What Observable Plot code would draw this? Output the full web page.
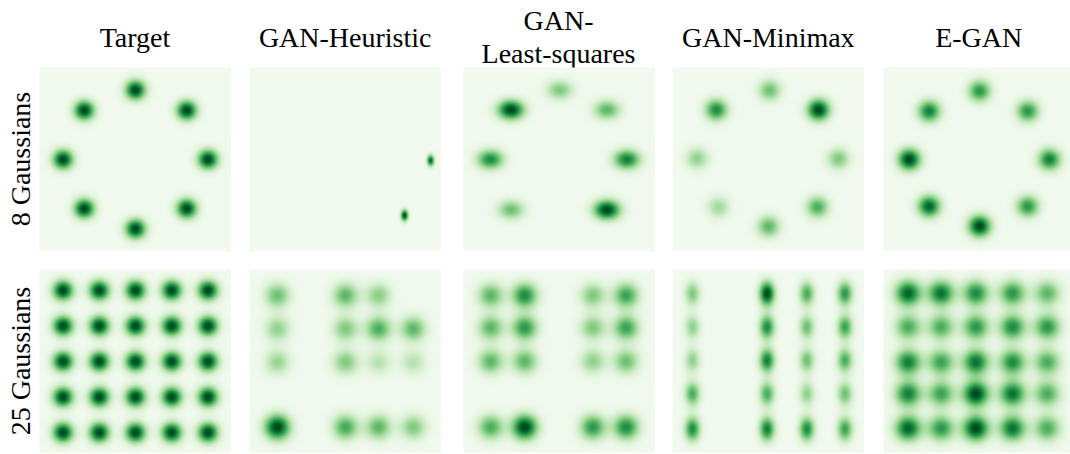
<!DOCTYPE html>
<html>
<head>
<meta charset="utf-8">
<script src="https://cdn.jsdelivr.net/npm/d3@7"></script>
<script src="https://cdn.jsdelivr.net/npm/@observablehq/plot@0.6"></script>
<style>
  html, body { margin: 0; padding: 0; background: #fff; }
  #chart { position: relative; width: 1070px; height: 454px; overflow: hidden; background: #fff; color: #000;
           font-family: "Liberation Serif", "Times New Roman", Times, serif; }
  .coltitle { position: absolute; top: 0; height: 74px; width: 210px; display: flex; flex-direction: column;
              align-items: center; justify-content: center; text-align: center; }
  .coltitle span { display: block; font-family: "Liberation Serif", "Times New Roman", Times, serif;
                   font-size: 28px; line-height: 33px; font-weight: 400; white-space: nowrap; }
  .rowlab { position: absolute; width: 184px; height: 34px; font-size: 28px; line-height: 34px;
            font-family: "Liberation Serif", "Times New Roman", Times, serif;
            text-align: center; transform-origin: center center; white-space: nowrap; }
  .panel { position: absolute; width: 192px; height: 184px; overflow: visible; }
  .panel svg { display: block; max-width: none !important; width: 192px; height: 184px; }
</style>
</head>
<body>
<div id="chart"></div>
<script>
// ---- labels ----
const methods = ["Target", "GAN-Heuristic", "GAN-\nLeast-squares", "GAN-Minimax", "E-GAN"];
const rowLabels = ["8 Gaussians", "25 Gaussians"];

// ---- 8 Gaussians: [x, y, relative peak] ----
const target8 = [[0, 2, 1], [1.414, 1.414, 1], [2, 0, 1], [1.414, -1.414, 1],
                 [0, -2, 1], [-1.414, -1.414, 1], [-2, 0, 1], [-1.414, 1.414, 1]];
const heuristic8 = [[2.35, -0.03, 0.9], [1.63, -1.61, 1]];
const leastSquares8 = [[0, 2.0, 0.45], [-1.34, 1.43, 1], [1.31, 1.43, 0.55], [-1.91, 0, 0.75],
                       [1.86, 0, 0.8], [-1.34, -1.45, 0.5], [1.31, -1.45, 1]];
const minimax8 = [[0.03, 1.99, 0.5], [-1.44, 1.43, 0.75], [1.38, 1.43, 1], [-1.97, 0.03, 0.4],
                  [1.93, 0.02, 0.45], [-1.38, -1.37, 0.35], [1.35, -1.37, 0.6], [0, -1.93, 0.55]];
const egan8 = [[0, 1.97, 0.7], [-1.39, 1.39, 0.8], [1.33, 1.39, 0.7], [-1.94, 0, 1],
               [1.93, 0, 0.8], [-1.39, -1.35, 0.9], [1.33, -1.35, 0.7], [0, -1.92, 1]];

// ---- 25 Gaussians: grid columns, rows, peaks (rows top to bottom) ----
const target25Cols = [-2, -1, 0, 1, 2];
const target25Rows = [2, 1, 0, -1, -2];
const target25Peaks = [[1, 1, 1, 1, 1], [1, 1, 1, 1, 1], [1, 1, 1, 1, 1], [1, 1, 1, 1, 1], [1, 1, 1, 1, 1]];

const heuristic25Cols = [-1.88, 0, 0.91, 1.87];
const heuristic25Rows = [1.86, 0.92, -0.02, -1.85];
const heuristic25Peaks = [[0.5, 0.55, 0.42, 0], [0.4, 0.45, 0.6, 0.55],
                          [0.38, 0.45, 0.28, 0.28], [1, 0.62, 0.55, 0.45]];

const leastSquares25Cols = [-1.9, -0.96, 0.92, 1.84];
const leastSquares25Rows = [1.86, 0.95, 0, -1.85];
const leastSquares25Peaks = [[0.55, 0.75, 0.45, 0.65], [0.55, 0.7, 0.45, 0.65],
                             [0.55, 0.55, 0.4, 0.5], [0.6, 1, 0.7, 0.75]];

const minimax25Cols = [-2.1, -0.04, 1.06, 2.11];
const minimax25Rows = [1.91, 0.97, 0.03, -0.91, -1.9];
const minimax25Peaks = [[0.45, 1, 0.6, 0.7], [0.4, 0.75, 0.5, 0.65], [0.4, 0.8, 0.5, 0.6],
                        [0.6, 0.6, 0.4, 0.5], [0.75, 0.8, 0.75, 0.65]];

const egan25Cols = [-1.97, -1.06, -0.1, 0.91, 1.87];
const egan25Rows = [1.92, 0.97, -0.02, -0.91, -1.88];
const egan25Peaks = [[0.9, 0.85, 0.75, 0.7, 0.55], [0.6, 0.6, 0.7, 0.75, 0.7],
                     [0.8, 0.65, 0.85, 0.75, 0.6], [0.8, 0.65, 1, 0.85, 0.6],
                     [0.9, 0.7, 1, 0.85, 0.6]];

// spread of each mode [sx, sy] (data units)
const sigma8 = [[0.2, 0.2], [0.07, 0.115], [0.26, 0.2], [0.22, 0.22], [0.22, 0.22]];
const sigma25 = [[0.2, 0.2], [0.25, 0.25], [0.25, 0.25], [0.15, 0.24], [0.255, 0.255]];

// ---- build ----
function grid(cols, rows, peaks) {
  const pts = [];
  rows.forEach((y, i) => cols.forEach((x, j) => { if (peaks[i][j] > 0) pts.push([x, y, peaks[i][j]]); }));
  return pts;
}
const panels8 = [target8, heuristic8, leastSquares8, minimax8, egan8];
const panels25 = [grid(target25Cols, target25Rows, target25Peaks),
                  grid(heuristic25Cols, heuristic25Rows, heuristic25Peaks),
                  grid(leastSquares25Cols, leastSquares25Rows, leastSquares25Peaks),
                  grid(minimax25Cols, minimax25Rows, minimax25Peaks),
                  grid(egan25Cols, egan25Rows, egan25Peaks)];

function densityFn(pts, [sx, sy]) {
  return (x, y) => {
    let s = 0;
    for (const [cx, cy, p] of pts) {
      const dx = (x - cx) / sx, dy = (y - cy) / sy;
      s += p * Math.exp(-0.5 * (dx * dx + dy * dy));
    }
    return s;
  };
}

const chart = document.getElementById("chart");
const centers = [135, 345.2, 558.5, 768.3, 978.7];
const PW = 192, PH = 184;
const rowTops = [67, 269];
const LX = 2.65, LY = [2.65, 2.59];
const SERIF = '"Liberation Serif", "Times New Roman", Times, serif';

methods.forEach((m, i) => {
  const t = document.createElement("div");
  t.className = "coltitle";
  t.style.left = (centers[i] - 105) + "px";
  m.split("\n").forEach(line => {
    const s = document.createElement("span");
    s.textContent = line;
    s.style.fontFamily = SERIF;
    t.appendChild(s);
  });
  chart.appendChild(t);
});

rowLabels.forEach((r, k) => {
  const d = document.createElement("div");
  d.className = "rowlab";
  d.textContent = r;
  d.style.fontFamily = SERIF;
  const cy = rowTops[k] + PH / 2;
  d.style.top = (cy - 17) + "px";
  d.style.left = (21 - 92) + "px";
  d.style.transform = "rotate(-90deg)";
  chart.appendChild(d);
});

[panels8, panels25].forEach((row, k) => {
  const sig = k === 0 ? sigma8 : sigma25;
  row.forEach((pts, i) => {
    const f = densityFn(pts, sig[i]);
    const p = Plot.plot({
      width: PW, height: PH, margin: 0,
      style: {maxWidth: "none"},
      x: {domain: [-LX, LX], axis: null},
      y: {domain: [-LY[k], LY[k]], axis: null},
      color: {type: "linear", scheme: "greens", domain: [-0.035, 1], clamp: true},
      marks: [
        Plot.raster({fill: f, x1: -LX, x2: LX, y1: -LY[k], y2: LY[k], pixelSize: 1, imageRendering: "auto"})
      ]
    });
    const w = document.createElement("div");
    w.className = "panel";
    w.style.left = (centers[i] - PW / 2) + "px";
    w.style.top = rowTops[k] + "px";
    w.appendChild(p);
    chart.appendChild(w);
  });
});
</script>
</body>
</html>
